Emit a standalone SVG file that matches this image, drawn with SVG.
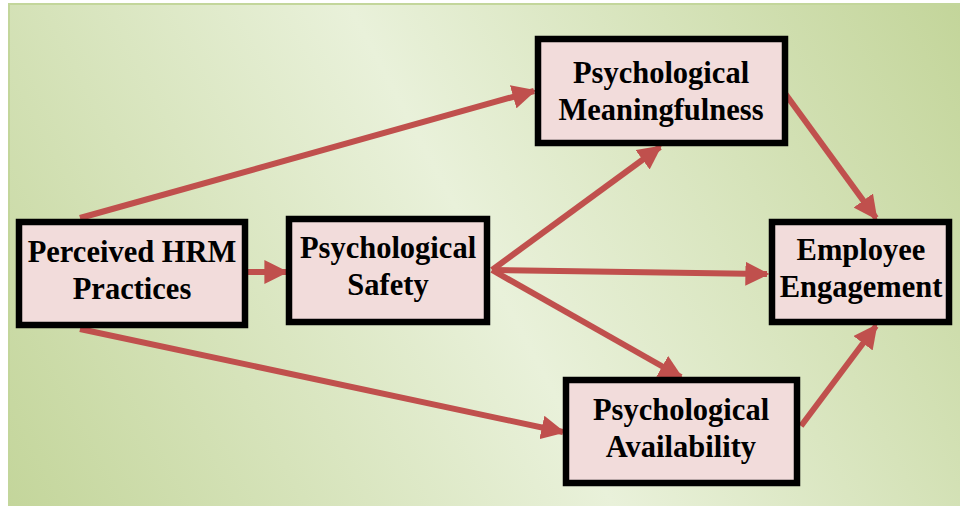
<svg xmlns="http://www.w3.org/2000/svg" width="960" height="506" viewBox="0 0 960 506">
<defs>
<linearGradient id="bg" x1="960" y1="0" x2="0" y2="506" gradientUnits="userSpaceOnUse">
<stop offset="0" stop-color="#c3d59a"/>
<stop offset="0.5" stop-color="#e9f1da"/>
<stop offset="1" stop-color="#c3d59a"/>
</linearGradient>
<marker id="ah" viewBox="0 0 10 10" refX="9" refY="5" markerWidth="4" markerHeight="4" markerUnits="strokeWidth" orient="auto">
<path d="M0,0 L10,5 L0,10 Z" fill="#c0504d"/>
</marker>
<style>
.box{fill:#f2dcdb;stroke:#000;stroke-width:6.5}
.lbl{font-family:"Liberation Serif","Times New Roman",serif;font-weight:bold;font-size:30.5px;fill:#000;text-anchor:middle}
.con{stroke:#c0504d;stroke-width:6;fill:none;marker-end:url(#ah)}
</style>
</defs>
<rect x="0" y="0" width="960" height="506" fill="#fff"/>
<rect x="9" y="4" width="952" height="503" fill="url(#bg)" stroke="#c3d69b" stroke-width="2"/>
<g id="connectors">
<line class="con" x1="80" y1="218" x2="534" y2="91"/>
<line class="con" x1="248" y1="272" x2="286" y2="272"/>
<line class="con" x1="492" y1="270" x2="660" y2="147"/>
<line class="con" x1="492" y1="270" x2="767" y2="274"/>
<line class="con" x1="492" y1="270" x2="681" y2="377"/>
<line class="con" x1="80" y1="329" x2="563" y2="432"/>
<line class="con" x1="784" y1="92" x2="876" y2="218"/>
<line class="con" x1="801" y1="426" x2="876" y2="326"/>
</g>
<g id="hrm">
<rect class="box" x="19" y="222" width="226" height="103"/>
<text class="lbl" x="132" y="262">Perceived HRM</text>
<text class="lbl" x="132" y="299">Practices</text>
</g>
<g id="safety">
<rect class="box" x="289" y="219" width="198" height="103"/>
<text class="lbl" x="388" y="258">Psychological</text>
<text class="lbl" x="388" y="295">Safety</text>
</g>
<g id="meaningfulness">
<rect class="box" x="538" y="39" width="247" height="104"/>
<text class="lbl" x="661" y="83">Psychological</text>
<text class="lbl" x="661" y="120">Meaningfulness</text>
</g>
<g id="engagement">
<rect class="box" x="772" y="222" width="177" height="100"/>
<text class="lbl" x="861" y="260">Employee</text>
<text class="lbl" x="861" y="297">Engagement</text>
</g>
<g id="availability">
<rect class="box" x="566" y="380" width="231" height="103"/>
<text class="lbl" x="681" y="420">Psychological</text>
<text class="lbl" x="681" y="457">Availability</text>
</g>
</svg>
